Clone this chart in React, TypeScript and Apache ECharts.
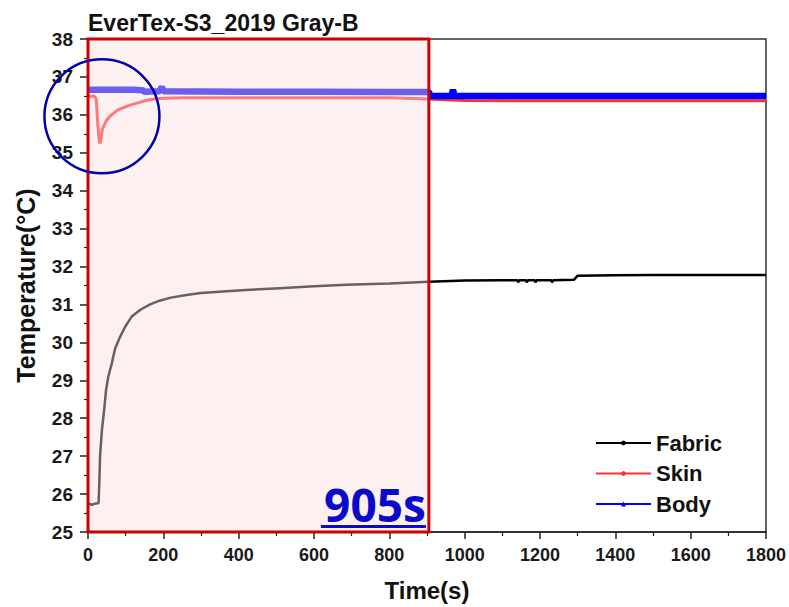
import React, { useEffect, useRef } from "react";
import * as echarts from "echarts";

// Temperature readings, [time (s), temperature (°C)]
const fabricData: number[][] = [
  [0, 25.75], [10, 25.72], [20, 25.75], [28, 25.76], [30, 26.28], [32, 27.0],
  [37, 27.7], [43, 28.23], [48, 28.75], [54, 29.1], [63, 29.44], [72, 29.84],
  [85, 30.14], [99, 30.42], [116, 30.68], [139, 30.86], [165, 31.0], [190, 31.1],
  [220, 31.18], [261, 31.25], [300, 31.3], [367, 31.35], [420, 31.38], [509, 31.43],
  [600, 31.48], [686, 31.52], [800, 31.55], [905, 31.6], [1000, 31.63], [1100, 31.64],
  [1140, 31.64], [1142, 31.58], [1145, 31.64], [1163, 31.64], [1165, 31.58],
  [1168, 31.64], [1186, 31.64], [1188, 31.58], [1191, 31.64], [1230, 31.64],
  [1232, 31.58], [1235, 31.64], [1290, 31.65], [1300, 31.76], [1400, 31.77],
  [1500, 31.78], [1600, 31.78], [1700, 31.78], [1800, 31.78],
];

const skinData: number[][] = [
  [0, 36.5], [8, 36.48], [15, 36.5], [20, 36.45], [22, 36.4], [25, 35.9],
  [28, 35.5], [31, 35.25], [34, 35.3], [38, 35.62], [44, 35.75], [49, 35.85],
  [57, 35.95], [65, 36.02], [75, 36.1], [84, 36.15], [97, 36.2], [110, 36.25],
  [123, 36.29], [137, 36.33], [150, 36.37], [163, 36.4], [190, 36.43], [250, 36.45],
  [400, 36.45], [600, 36.45], [800, 36.45], [905, 36.42], [1000, 36.38],
  [1200, 36.37], [1400, 36.37], [1600, 36.37], [1800, 36.37],
];

const bodyData: number[][] = [
  [0, 36.66], [60, 36.66], [120, 36.66], [145, 36.65], [150, 36.61], [190, 36.62],
  [196, 36.74], [200, 36.62], [400, 36.61], [600, 36.61], [800, 36.6], [905, 36.6],
  [910, 36.5], [965, 36.5], [969, 36.66], [973, 36.5], [1200, 36.5], [1500, 36.5],
  [1800, 36.5],
];

// Highlighted window (s) and its caption
const windowStart = 0;
const windowEnd = 905;
const windowLabel = "905s";

// Region of interest around the skin-temperature dip
const dipCenter = [37, 35.96];

const seriesNames = ["Fabric", "Skin", "Body"];

const FONT = "'Liberation Sans', Arial, sans-serif";

export default function App() {
  const ref = useRef<HTMLDivElement>(null);

  useEffect(() => {
    document.body.style.margin = "0";
    if (!ref.current) return;
    const chart = echarts.init(ref.current, null, { renderer: "svg" });

    const axisLabel = {
      fontFamily: FONT,
      fontWeight: "bold" as const,
      color: "#1a1a1a",
    };
    const axisName = {
      fontFamily: FONT,
      fontWeight: "bold" as const,
      color: "#111",
    };

    chart.setOption({
      animation: false,
      backgroundColor: "#fff",
      title: {
        text: "EverTex-S3_2019 Gray-B",
        left: 83,
        top: 6,
        textStyle: { fontFamily: FONT, fontWeight: "bold", fontSize: 23, color: "#111" },
      },
      grid: {
        left: 88,
        right: 23,
        top: 39,
        bottom: 70,
        show: true,
        borderColor: "#333",
        borderWidth: 1.5,
        backgroundColor: "transparent",
      },
      legend: {
        data: seriesNames,
        orient: "vertical",
        left: 590,
        top: 426,
        itemWidth: 55,
        itemHeight: 6,
        itemGap: 6.5,
        lineStyle: { width: 2 },
        textStyle: {
          fontFamily: FONT,
          fontWeight: "bold",
          fontSize: 22,
          lineHeight: 24,
          color: "#111",
        },
      },
      xAxis: {
        type: "value",
        min: 0,
        max: 1800,
        interval: 200,
        name: "Time(s)",
        nameLocation: "middle",
        nameGap: 46,
        nameTextStyle: { ...axisName, fontSize: 24 },
        axisLine: { show: true, lineStyle: { color: "#222", width: 1.5 } },
        axisTick: { show: true, inside: false, length: 7, lineStyle: { color: "#222", width: 1.5 } },
        minorTick: { show: true, splitNumber: 2, length: 4, lineStyle: { color: "#222", width: 1.2 } },
        axisLabel: { ...axisLabel, fontSize: 18, margin: 14, formatter: (v: number) => String(v) },
        splitLine: { show: false },
      },
      yAxis: {
        type: "value",
        min: 25,
        max: 38,
        interval: 1,
        name: "Temperature(°C)",
        nameLocation: "middle",
        nameGap: 50,
        nameTextStyle: { ...axisName, fontSize: 25 },
        axisLine: { show: true, lineStyle: { color: "#222", width: 1.5 } },
        axisTick: { show: true, inside: false, length: 8, lineStyle: { color: "#222", width: 1.5 } },
        minorTick: { show: true, splitNumber: 2, length: 4, lineStyle: { color: "#222", width: 1.2 } },
        axisLabel: { ...axisLabel, fontSize: 19, margin: 15, formatter: (v: number) => String(v) },
        splitLine: { show: false },
      },
      series: [
        {
          name: "Fabric",
          type: "line",
          data: fabricData,
          symbol: "circle",
          symbolSize: 3,
          showSymbol: false,
          lineStyle: { color: "#000", width: 2.5 },
          itemStyle: { color: "#000" },
          z: 2,
        },
        {
          name: "Skin",
          type: "line",
          data: skinData,
          symbol: "circle",
          symbolSize: 3,
          showSymbol: false,
          lineStyle: { color: "#ff3030", width: 3 },
          itemStyle: { color: "#ff3030" },
          z: 3,
        },
        {
          name: "Body",
          type: "line",
          data: bodyData,
          symbol: "triangle",
          symbolSize: 6,
          showSymbol: false,
          lineStyle: { color: "#0000ff", width: 6.5 },
          itemStyle: { color: "#0000ff" },
          z: 4,
        },
      ],
    });

    const [x0, yTop] = chart.convertToPixel({ gridIndex: 0 }, [windowStart, 38]) as number[];
    const [x1, yBottom] = chart.convertToPixel({ gridIndex: 0 }, [windowEnd, 25]) as number[];
    const [cx, cy] = chart.convertToPixel({ gridIndex: 0 }, dipCenter) as number[];

    chart.setOption({
      graphic: [
        {
          // Translucent shaded window over the first 905 s
          type: "rect",
          z: 50,
          silent: true,
          shape: { x: x0, y: yTop, width: x1 - x0, height: yBottom - yTop },
          style: {
            fill: "rgba(249, 221, 221, 0.43)",
            stroke: "#cc0000",
            lineWidth: 3,
          },
        },
        {
          type: "ellipse",
          z: 100,
          shape: { cx, cy, rx: 57.5, ry: 57 },
          style: { fill: "none", stroke: "#0000aa", lineWidth: 2.5 },
          silent: true,
        },
        {
          type: "text",
          z: 100,
          x: x1 - 3,
          y: yBottom - 5,
          style: {
            text: windowLabel,
            fontFamily: "'Open Sans', sans-serif",
            fontWeight: "bold",
            fontSize: 46,
            fill: "#0a0acc",
            align: "right",
            verticalAlign: "bottom",
          },
          silent: true,
        },
        {
          type: "rect",
          z: 100,
          shape: { x: x1 - 108, y: yBottom - 7, width: 105, height: 3 },
          style: { fill: "#0a0acc" },
          silent: true,
        },
      ],
    });

    return () => chart.dispose();
  }, []);

  return <div ref={ref} style={{ width: 789, height: 607 }} />;
}
